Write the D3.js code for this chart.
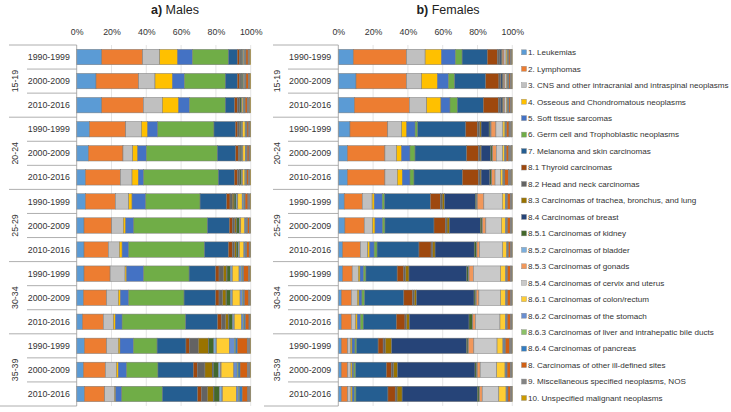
<!DOCTYPE html>
<html>
<head>
<meta charset="utf-8">
<script src="https://cdn.jsdelivr.net/npm/d3@7"></script>
<style>
  body { margin: 0; background: #fff; }
  svg { font-family: "Liberation Sans", Arial, sans-serif; }
</style>
</head>
<body>
<div id="chart"></div>
<script>
const categories = [
  "1. Leukemias",
  "2. Lymphomas",
  "3. CNS and other intracranial and intraspinal neoplasms",
  "4. Osseous and Chondromatous neoplasms",
  "5. Soft tissue sarcomas",
  "6. Germ cell and Trophoblastic neoplasms",
  "7. Melanoma and skin carcinomas",
  "8.1 Thyroid carcinomas",
  "8.2 Head and neck carcinomas",
  "8.3 Carcinomas of trachea, bronchus, and lung",
  "8.4 Carcinomas of breast",
  "8.5.1 Carcinomas of kidney",
  "8.5.2 Carcinomas of bladder",
  "8.5.3 Carcinomas of gonads",
  "8.5.4 Carcinomas of cervix and uterus",
  "8.6.1 Carcinomas of colon/rectum",
  "8.6.2 Carcinomas of the stomach",
  "8.6.3 Carcinomas of liver and intrahepatic bile ducts",
  "8.6.4 Carcinomas of pancreas",
  "8. Carcinomas of other ill-defined sites",
  "9. Miscellaneous specified neoplasms, NOS",
  "10. Unspecified malignant neoplasms"
];

const colors = [
  "#5b9bd5", "#ed7d31", "#c0c0c0", "#ffc000", "#4472c4", "#70ad47",
  "#255e91", "#9e480e", "#636363", "#997300", "#264478", "#43682b",
  "#7cafdd", "#f1975a", "#c9c9c9", "#ffcd33", "#698ed0", "#8cc168",
  "#327dc2", "#d26012", "#848484", "#cc9a00"
];

const ageGroups = ["15-19", "20-24", "25-29", "30-34", "35-39"];
const periods = ["1990-1999", "2000-2009", "2010-2016"];
const tickValues = [0, 0.2, 0.4, 0.6, 0.8, 1];

// one row per age group x period, values in % (order of categories)
const malesValues = [
  [14.4, 23.5, 9.8, 10.3, 8.5, 20.7, 5.1, 1.2, 0.9, 0.3, 0.1, 0.6, 0.3, 0.2, 0, 0.5, 0.3, 0.4, 0.2, 1.2, 0.9, 0.6],
  [11.1, 24.5, 9.4, 10.0, 6.9, 23.5, 6.9, 1.3, 0.8, 0.3, 0.1, 0.7, 0.3, 0.2, 0, 0.5, 0.3, 0.3, 0.2, 1.3, 0.9, 0.5],
  [14.4, 23.9, 10.9, 9.4, 6.2, 20.6, 5.4, 1.6, 1.0, 0.3, 0.1, 0.8, 0.3, 0.2, 0, 0.7, 0.3, 0.4, 0.3, 1.2, 1.4, 0.6],
  [7.3, 20.9, 9.0, 3.6, 5.8, 32.3, 12.3, 1.4, 0.9, 0.4, 0.1, 0.8, 0.4, 0.2, 0, 1.4, 0.4, 0.4, 0.3, 1.0, 0.8, 0.3],
  [6.7, 19.9, 5.6, 2.9, 4.9, 40.8, 10.6, 1.5, 0.8, 0.3, 0.1, 0.8, 0.4, 0.2, 0, 1.4, 0.4, 0.4, 0.3, 1.0, 0.7, 0.3],
  [5.0, 20.1, 6.7, 3.6, 3.1, 42.9, 9.2, 1.9, 0.9, 0.3, 0.1, 0.9, 0.4, 0.2, 0, 1.4, 0.4, 0.4, 0.3, 1.0, 0.8, 0.4],
  [5.0, 17.2, 7.7, 1.9, 7.9, 31.2, 15.3, 1.9, 1.3, 1.0, 0.1, 1.1, 0.8, 0.2, 0, 2.5, 0.8, 0.4, 0.5, 1.6, 1.3, 0.3],
  [4.2, 15.9, 6.7, 1.4, 4.6, 42.3, 12.6, 1.7, 1.5, 1.0, 0.1, 1.5, 0.6, 0.2, 0, 2.3, 0.7, 0.4, 0.5, 1.0, 0.6, 0.2],
  [4.2, 14.0, 6.3, 1.6, 3.8, 43.5, 13.8, 2.3, 1.3, 0.9, 0.1, 1.0, 0.6, 0.2, 0, 2.5, 0.7, 0.4, 0.5, 1.4, 0.7, 0.2],
  [4.2, 15.0, 8.6, 0.9, 9.8, 26.1, 15.3, 1.9, 2.5, 1.9, 0.2, 1.9, 1.0, 0.2, 0, 3.8, 1.3, 0.6, 0.8, 2.8, 0.9, 0.3],
  [3.8, 13.4, 6.7, 1.2, 4.8, 31.8, 18.2, 1.9, 2.1, 1.9, 0.2, 2.3, 1.0, 0.2, 0, 4.4, 1.3, 0.5, 0.8, 2.4, 0.9, 0.2],
  [3.3, 12.0, 5.8, 1.1, 3.9, 36.5, 18.4, 2.3, 2.3, 1.7, 0.2, 2.1, 0.8, 0.2, 0, 4.0, 1.1, 0.5, 0.8, 2.0, 0.8, 0.2],
  [4.4, 12.8, 6.7, 1.0, 7.7, 13.6, 16.6, 1.9, 5.2, 5.7, 0.3, 2.9, 1.3, 0.3, 0, 7.3, 2.9, 0.8, 1.0, 5.6, 1.7, 0.3],
  [3.8, 12.7, 6.3, 1.1, 4.8, 18.0, 20.3, 2.3, 4.4, 4.2, 0.6, 2.9, 1.3, 0.3, 0, 7.3, 1.9, 0.6, 1.1, 4.2, 1.6, 0.3],
  [4.4, 11.7, 5.7, 0.6, 3.5, 23.3, 20.3, 2.3, 3.3, 3.4, 0.4, 3.1, 1.5, 0.3, 0, 7.9, 1.3, 0.6, 1.5, 3.2, 1.5, 0.2]
];

const femalesValues = [
  [8.6, 30.7, 10.7, 9.4, 8.0, 3.9, 14.5, 5.8, 1.0, 0.3, 0.8, 0.5, 0.2, 1.0, 1.2, 0.6, 0.3, 0.3, 0.3, 0.8, 1.0, 0.3],
  [10.2, 29.1, 8.6, 9.2, 6.3, 3.6, 17.9, 7.6, 0.9, 0.3, 0.8, 0.4, 0.2, 0.8, 1.0, 0.5, 0.3, 0.3, 0.3, 0.7, 0.9, 0.3],
  [9.2, 31.6, 10.0, 8.2, 5.2, 4.2, 14.9, 8.7, 1.0, 0.3, 0.8, 0.5, 0.2, 0.8, 1.0, 0.6, 0.3, 0.3, 0.3, 0.8, 0.8, 0.3],
  [6.7, 21.7, 8.0, 2.9, 4.8, 1.5, 27.6, 6.7, 1.3, 0.8, 4.6, 0.8, 0.3, 2.8, 4.0, 1.2, 0.3, 0.2, 0.4, 1.4, 1.6, 0.3],
  [5.2, 21.6, 6.7, 2.9, 4.8, 2.9, 29.7, 6.7, 1.0, 0.6, 5.5, 0.8, 0.3, 2.1, 3.6, 1.2, 0.3, 0.2, 0.4, 1.5, 1.7, 0.3],
  [5.2, 21.6, 7.1, 2.9, 4.4, 2.3, 27.8, 9.2, 1.0, 0.6, 5.0, 0.8, 0.3, 1.9, 3.2, 1.3, 0.4, 0.2, 0.5, 2.1, 1.9, 0.3],
  [3.4, 10.4, 5.7, 1.2, 4.6, 1.3, 26.5, 5.7, 1.1, 1.3, 17.8, 0.8, 0.3, 3.8, 10.7, 1.7, 0.4, 0.3, 0.5, 1.6, 1.0, 0.2],
  [3.8, 11.1, 4.8, 1.4, 4.4, 1.3, 28.2, 6.5, 1.0, 1.3, 17.8, 1.0, 0.3, 1.9, 9.0, 2.3, 0.4, 0.3, 0.4, 1.6, 1.0, 0.2],
  [2.5, 10.3, 4.2, 1.2, 2.5, 1.7, 24.2, 7.0, 1.0, 1.3, 22.6, 1.3, 0.3, 1.5, 13.4, 2.3, 0.3, 0.2, 0.4, 1.3, 0.8, 0.2],
  [2.5, 5.5, 3.5, 1.0, 2.1, 1.3, 18.0, 3.8, 1.1, 1.9, 33.3, 1.0, 0.3, 2.5, 15.7, 2.9, 0.4, 0.2, 0.4, 1.8, 0.8, 0.2],
  [1.7, 5.8, 3.4, 1.0, 1.7, 1.5, 22.6, 5.0, 1.0, 1.3, 33.1, 1.0, 0.3, 1.5, 12.5, 2.9, 0.4, 0.2, 0.4, 1.8, 0.8, 0.2],
  [1.7, 5.8, 2.5, 0.9, 1.9, 1.6, 19.1, 5.0, 1.0, 1.5, 34.5, 1.9, 0.3, 1.5, 14.2, 3.1, 0.5, 0.2, 0.4, 1.9, 0.8, 0.2],
  [1.7, 3.7, 1.7, 0.8, 1.7, 0.9, 12.5, 2.9, 1.3, 3.6, 43.3, 0.8, 0.3, 3.1, 13.4, 3.4, 0.6, 0.3, 0.5, 2.5, 1.3, 0.2],
  [1.7, 3.7, 1.9, 0.7, 1.0, 1.0, 17.8, 2.9, 1.3, 2.3, 44.8, 1.0, 0.3, 1.7, 9.6, 4.8, 0.5, 0.2, 0.5, 1.8, 1.0, 0.2],
  [1.7, 3.7, 1.9, 0.7, 1.2, 1.0, 18.5, 4.2, 1.1, 2.9, 43.5, 1.0, 0.3, 1.5, 9.6, 4.2, 0.5, 0.2, 0.4, 1.5, 0.8, 0.2]
];

const width = 731;
const height = 412;
const plotTop = 45;
const plotBottom = 406;
const lineColor = "#9a9a9a";
const textColor = "#333";

const svg = d3.select("#chart")
  .append("svg")
  .attr("width", width)
  .attr("height", height);

const rowIds = [];
ageGroups.forEach((g) => periods.forEach((p) => rowIds.push(g + "|" + p)));

const y = d3.scaleBand()
  .domain(rowIds)
  .range([plotTop, plotBottom])
  .paddingInner(0.36)
  .paddingOuter(0.18);

const stack = d3.stack()
  .keys(d3.range(categories.length))
  .offset(d3.stackOffsetExpand);

function drawPanel(letter, title, titleX, values, x0, x1, groupX, groupLineX, rowLineX) {
  const x = d3.scaleLinear().domain([0, 1]).range([x0, x1]);
  const g = svg.append("g");
  const rows = values.map((v, i) => Object.assign(v.slice(), { id: rowIds[i] }));
  const series = stack(rows);

  // title
  const t = g.append("text")
    .attr("x", titleX)
    .attr("y", 14)
    .attr("text-anchor", "middle")
    .attr("font-size", 12.5)
    .attr("fill", "#222");
  t.append("tspan").attr("font-weight", "bold").text(letter);
  t.append("tspan").text(" " + title);

  // gridlines
  g.selectAll(".grid")
    .data(tickValues.slice(1))
    .enter()
    .append("line")
    .attr("x1", (d) => x(d))
    .attr("x2", (d) => x(d))
    .attr("y1", plotTop)
    .attr("y2", plotBottom)
    .attr("stroke", "#dedede")
    .attr("stroke-width", 0.8);

  // top axis
  const axis = g.append("g")
    .attr("transform", `translate(0, ${plotTop - 7})`)
    .call(d3.axisTop(x).tickValues(tickValues).tickFormat(d3.format(".0%")).tickSize(0));
  axis.select(".domain").remove();
  axis.selectAll("text")
    .attr("font-family", "Liberation Sans, Arial, sans-serif")
    .attr("font-size", 8.8)
    .attr("fill", textColor)
    .attr("dy", 0);

  // bars
  g.selectAll(".serie")
    .data(series)
    .enter()
    .append("g")
    .attr("fill", (d) => colors[d.key])
    .selectAll("rect")
    .data((d) => d)
    .enter()
    .append("rect")
    .attr("x", (d) => x(d[0]))
    .attr("width", (d) => Math.max(0, x(d[1]) - x(d[0])))
    .attr("y", (d) => y(d.data.id))
    .attr("height", y.bandwidth())
    .attr("stroke", "#7a7a7a")
    .attr("stroke-width", 0.5);

  // category table lines
  const half = y.step() * 0.18;
  g.append("line")
    .attr("x1", x0).attr("x2", x0)
    .attr("y1", plotTop).attr("y2", plotBottom)
    .attr("stroke", lineColor).attr("stroke-width", 0.8);

  rowIds.forEach((id, i) => {
    const yy = y(id) - half;
    const isGroup = i % periods.length === 0;
    g.append("line")
      .attr("x1", isGroup ? groupLineX : rowLineX)
      .attr("x2", x0)
      .attr("y1", yy).attr("y2", yy)
      .attr("stroke", lineColor).attr("stroke-width", 0.8);
  });
  g.append("line")
    .attr("x1", groupLineX - 9).attr("x2", x0)
    .attr("y1", plotBottom).attr("y2", plotBottom)
    .attr("stroke", lineColor).attr("stroke-width", 0.8);

  // period labels
  g.selectAll(".period")
    .data(rowIds)
    .enter()
    .append("text")
    .attr("x", (rowLineX + x0) / 2 - 3)
    .attr("y", (d) => y(d) + y.bandwidth() / 2)
    .attr("dy", "0.35em")
    .attr("text-anchor", "middle")
    .attr("font-size", 8.8)
    .attr("fill", textColor)
    .text((d) => d.split("|")[1]);

  // age group labels
  g.selectAll(".age")
    .data(ageGroups)
    .enter()
    .append("text")
    .attr("transform", (d) => {
      const mid = y(d + "|" + periods[1]) + y.bandwidth() / 2;
      return `translate(${groupX}, ${mid}) rotate(-90)`;
    })
    .attr("dy", "0.35em")
    .attr("text-anchor", "middle")
    .attr("font-size", 8.8)
    .attr("fill", textColor)
    .text((d) => d);
}

drawPanel("a)", "Males", 175, malesValues, 76.7, 250.7, 15, 9, 27);
drawPanel("b)", "Females", 448, femalesValues, 338.3, 512.3, 277, 273, 288);

// legend
const legendY = d3.scalePoint()
  .domain(categories)
  .range([52.3, 398]);

const legend = svg.selectAll(".legend")
  .data(categories)
  .enter()
  .append("g")
  .attr("transform", (d) => `translate(521.5, ${legendY(d)})`);

legend.append("rect")
  .attr("x", 0)
  .attr("y", -2.5)
  .attr("width", 5)
  .attr("height", 5)
  .attr("fill", (d, i) => colors[i])
  .attr("stroke", "#8a8a8a")
  .attr("stroke-width", 0.4);

legend.append("text")
  .attr("x", 6.5)
  .attr("y", 0)
  .attr("dy", "0.35em")
  .attr("font-size", 8.1)
  .attr("fill", textColor)
  .text((d) => d);
</script>
</body>
</html>
